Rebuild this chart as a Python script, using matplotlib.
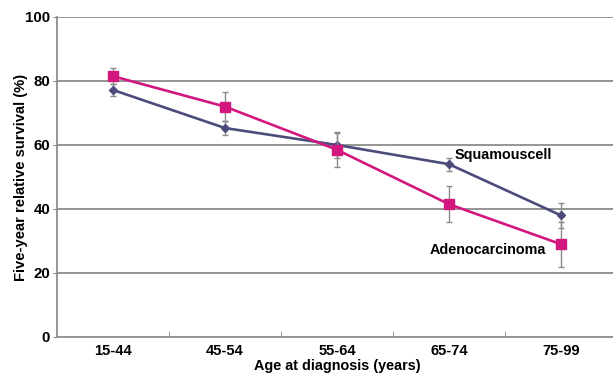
import numpy as np
import matplotlib
matplotlib.use('Agg')
import matplotlib.pyplot as plt

# Dados
grupos = ['15-44', '45-54', '55-64', '65-74', '75-99']
squamous = [77.2, 65.3, 60.0, 54.0, 38.0]
squamous_err = [2.0, 2.3, 4.0, 2.0, 4.0]
adeno = [81.5, 72.0, 58.5, 41.5, 29.0]
adeno_err = [2.5, 4.5, 5.3, 5.7, 7.0]

plt.rcParams['font.family'] = ['Liberation Sans', 'DejaVu Sans']
plt.rcParams['font.weight'] = 'bold'

fig = plt.figure(figsize=(6.13, 3.79), dpi=100)
ax = fig.add_axes([57/613, 42/379, 560/613, 320/379])

x = np.arange(len(grupos))
cor_sq = '#4b4b7c'
cor_ad = '#d2177f'

for yv in [20, 40, 60, 80, 100]:
    ax.axhline(yv, color='#8c8c8c', lw=1.3, zorder=0)

ax.errorbar(x, squamous, yerr=squamous_err, color=cor_sq, lw=1.9, marker='D',
            ms=4.5, ecolor='#8a8a8a', elinewidth=1, capsize=2, zorder=3)
ax.errorbar(x, adeno, yerr=adeno_err, color=cor_ad, lw=1.9, marker='s',
            ms=6.5, ecolor='#8a8a8a', elinewidth=1, capsize=2, zorder=4)

ax.text(3.05, 57, 'Squamouscell', fontsize=10.4, fontweight='bold', va='center')
ax.text(2.83, 27.2, 'Adenocarcinoma', fontsize=10.4, fontweight='bold', va='center')

ax.set_xlim(-0.5, 4.5)
ax.set_ylim(0, 100)
ax.set_yticks([0, 20, 40, 60, 80, 100])
ax.set_xticks(x)
ax.set_xticklabels(grupos)
ax.set_xticks(np.arange(0.5, 4.5, 1), minor=True)
ax.tick_params(axis='x', which='major', length=0, labelsize=10.6, pad=5)
ax.tick_params(axis='x', which='minor', length=4, direction='in', color='#8c8c8c')
ax.tick_params(axis='y', length=3, color='#8c8c8c', labelsize=10.8, pad=2)

for s in ['top', 'right']:
    ax.spines[s].set_visible(False)
for s in ['left', 'bottom']:
    ax.spines[s].set_color('#8c8c8c')
    ax.spines[s].set_linewidth(1.3)

ax.set_xlabel('Age at diagnosis (years)', fontsize=10.4, fontweight='bold', labelpad=1)
ax.set_ylabel('Five-year relative survival (%)', fontsize=10.6, fontweight='bold', labelpad=-2)

fig.savefig('out.png', dpi=100)
